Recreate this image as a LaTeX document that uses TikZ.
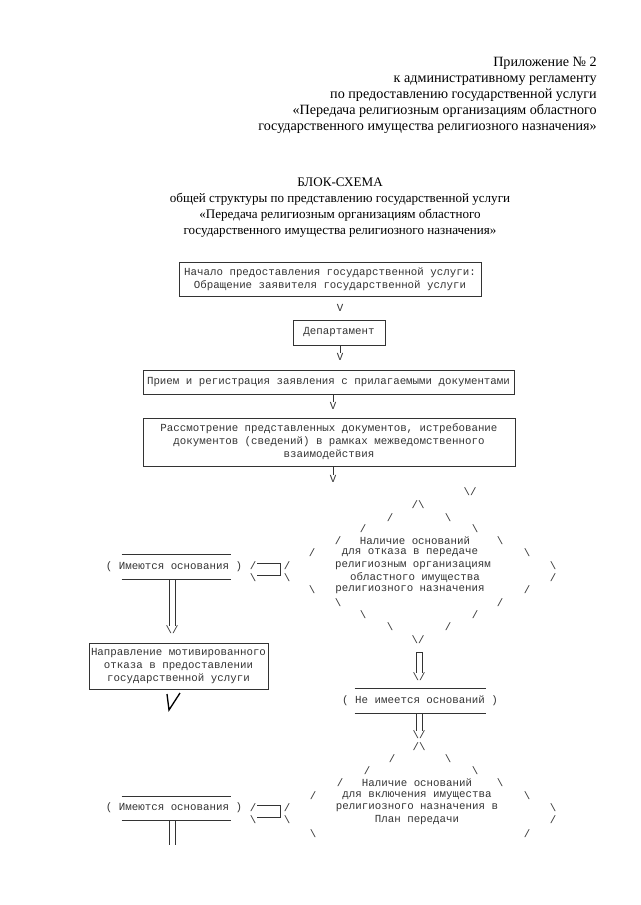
\documentclass[tikz,border=0pt]{standalone}
\usepackage{fontspec}
\setmainfont{Liberation Serif}
\newfontfamily\monof{Liberation Mono}
\newcommand\dgS{/}
\newcommand\dgB{\textbackslash}
\newcommand\dgV{\textbackslash/}
\newcommand\dgW{/\textbackslash}
\tikzset{
 mono/.style={font=\monof\fontsize{8.1}{9.8}\selectfont, inner sep=0pt, text=black!80, align=center},
 ser/.style={font=\fontsize{10.6}{12}\selectfont, inner sep=0pt, anchor=base east},
 tser/.style={font=\fontsize{9.8}{12}\selectfont, inner sep=0pt, anchor=base},
 box/.style={draw=black!80, line width=0.6pt, inner sep=0pt},
 ln/.style={draw=black!80, line width=0.6pt},
 frame/.style={inner sep=0pt, minimum width=81.75pt, minimum height=18pt}
}
\begin{document}
\begin{tikzpicture}[x=0.75pt,y=-0.75pt]
\useasboundingbox (0,0) rectangle (640,905);
% header
\node[ser] (h1) at (597,67) {Приложение №~2};
\node[ser] (h2) at (597,83) {к административному регламенту};
\node[ser] (h3) at (597,99) {по предоставлению государственной услуги};
\node[ser] (h4) at (597,115) {«Передача религиозным организациям областного};
\node[ser] (h5) at (597,131) {государственного имущества религиозного назначения»};
% title
\node[tser] (t1) at (340,187) {БЛОК-СХЕМА};
\node[tser] (t2) at (340,203) {общей структуры по представлению государственной услуги};
\node[tser] (t3) at (340,219) {«Передача религиозным организациям областного};
\node[tser] (t4) at (340,235) {государственного имущества религиозного назначения»};
% boxes
\node[box,minimum width=226.5pt,minimum height=25.5pt] (b1) at (330,279) {};
\node[mono] (b1t) at (b1.center) {Начало предоставления государственной услуги:\\Обращение заявителя государственной услуги};
\node[mono] (v1) at (340,308) {V};
\node[box,minimum width=69pt,minimum height=18.75pt] (b2) at (339,332.5) {};
\node[mono] (b2t) at (b2.center) {Департамент};
\node[mono] (v2) at (340,357) {V};
\draw[ln] (b2.south -| v2) -- (v2.north);
\node[box,minimum width=278.25pt,minimum height=18pt] (b3) at (328.5,382) {};
\node[mono] (b3t) at (b3.center) {Прием и регистрация заявления с прилагаемыми документами};
\node[mono] (v3) at (333,406) {V};
\draw[ln] (b3.south -| v3) -- (v3.north);
\node[box,minimum width=279pt,minimum height=36pt] (b4) at (329,442) {};
\node[mono] (b4t) at (b4.center) {Рассмотрение представленных документов, истребование\\документов (сведений) в рамках межведомственного\\взаимодействия};
\node[mono] (v4) at (333,479) {V};
\draw[ln] (b4.south -| v4) -- (v4.north);
% diamond 1
\foreach \x/\y/\c [count=\i] in {470/492/V,418/505/W,390/518/S,448/518/B,363/529/S,475/529/B,338/541/S,500/541/B,312/553/S,527/553/B,287/566/S,553/566/B,287/578/B,553/578/S,312/590/B,527/590/S,338/603/B,500/603/S,363/615/B,475/615/S,390/627/B,448/627/S,418/640/V}
  \node[mono] (da\i) at (\x,\y) {\csname dg\c\endcsname};
\node[mono] (q1) at (415,541) {Наличие оснований};
\node[mono] (q2) at (410,553) {для отказа в передаче};
\node[mono] (q3) at (413,566) {религиозным организациям};
\node[mono] (q4) at (415,578) {областного имущества};
\node[mono] (q5) at (410,590) {религиозного назначения};
% left branch 1
\node[mono] (im1) at (174,567) {( Имеются основания )};
\node[frame] (im1f) at (176.5,567) {};
\draw[ln] (im1f.north west) -- (im1f.north east);
\draw[ln] (im1f.south west) -- (im1f.south east);
\node[mono] (ar1a) at (253,566) {/};
\node[mono] (ar1b) at (253,578) {\textbackslash};
\draw[ln] (257,563) -| (280,575) -- (257,575);
\node[mono] (la1) at (172,630) {\textbackslash/};
\draw[ln] ([xshift=-2.25pt]la1.north) -- ([xshift=-2.25pt]la1.north |- im1f.south);
\draw[ln] ([xshift=2.25pt]la1.north) -- ([xshift=2.25pt]la1.north |- im1f.south);
\node[box,minimum width=134.25pt,minimum height=34.5pt] (b5) at (178.5,666) {};
\node[mono] (b5t) at (b5.center) {Направление мотивированного\\отказа в предоставлении\\государственной услуги};
\draw[line width=1pt] (167,694) -- (169,710) -- (180,693);
% no grounds
\node[mono] (ca) at (419,677) {\textbackslash/};
\draw[ln] ([xshift=-2.25pt]ca.north) -- ++(0,-20) -- ++(6,0) -- ++(0,20);
\node[mono] (ne) at (420,701) {( Не имеется оснований )};
\node[inner sep=0pt,minimum width=98.25pt,minimum height=18pt] (nef) at (420.5,701) {};
\draw[ln] (nef.north west) -- (nef.north east);
\draw[ln] (nef.south west) -- (nef.south east);
\node[mono] (nv) at (419,735) {\textbackslash/};
\draw[ln] ([xshift=-2.25pt]nv.north) -- ([xshift=-2.25pt]nv.north |- nef.south);
\draw[ln] ([xshift=2.25pt]nv.north) -- ([xshift=2.25pt]nv.north |- nef.south);
% diamond 2
\foreach \x/\y/\c [count=\i] in {419/747/W,392/759/S,448/759/B,367/771/S,475/771/B,340/783/S,500/783/B,313/796/S,527/796/B,287/808/S,553/808/B,287/820/B,553/820/S,313/834/B,527/834/S}
  \node[mono] (db\i) at (\x,\y) {\csname dg\c\endcsname};
\node[mono] (r1) at (417,783) {Наличие оснований};
\node[mono] (r2) at (417,796) {для включения имущества};
\node[mono] (r3) at (417,808) {религиозного назначения в};
\node[mono] (r4) at (417,820) {План передачи};
% left branch 2
\node[mono] (im2) at (174,808) {( Имеются основания )};
\node[frame] (im2f) at (176.5,808.5) {};
\draw[ln] (im2f.north west) -- (im2f.north east);
\draw[ln] (im2f.south west) -- (im2f.south east);
\node[mono] (ar2a) at (253,808) {/};
\node[mono] (ar2b) at (253,820) {\textbackslash};
\draw[ln] (257,805) -| (280,817) -- (257,817);
\coordinate (end2) at (172,845);
\draw[ln] ([xshift=-2.25pt]im2f.south -| end2) -- ([xshift=-2.25pt]end2);
\draw[ln] ([xshift=2.25pt]im2f.south -| end2) -- ([xshift=2.25pt]end2);
\end{tikzpicture}
\end{document}
